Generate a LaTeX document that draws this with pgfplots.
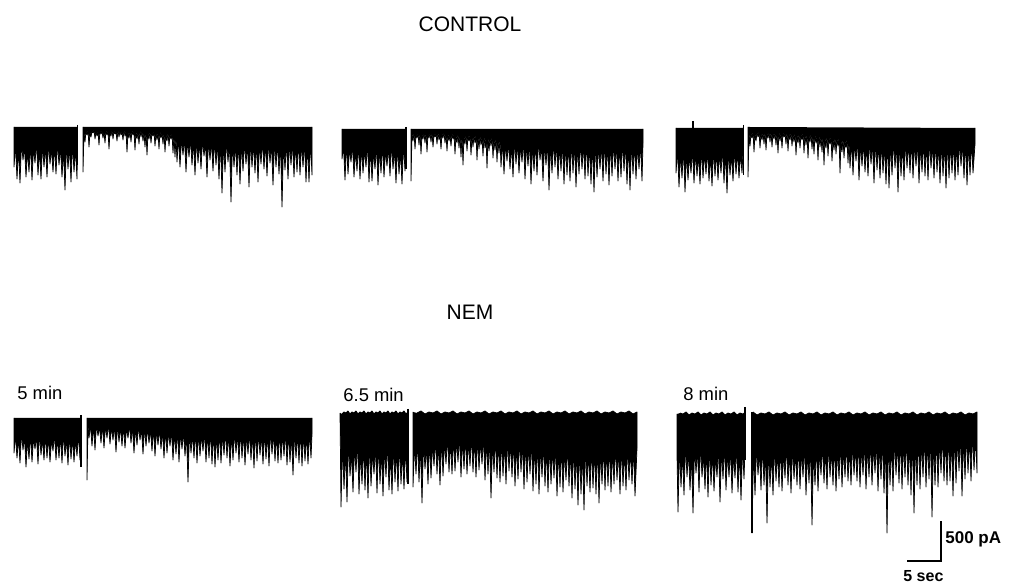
\documentclass[border=0pt]{standalone}
\usepackage{fontspec}
\setmainfont{Liberation Sans}
\usepackage{pgfplots}
\pgfplotsset{compat=1.18}
\pgfplotsset{trace/.style={hide axis, x=0.5pt, y=0.5pt, ymin=-130, ymax=10, clip=false, anchor=north west, enlargelimits=false},
 tr/.style={fill=black, draw=black, line width=0.36pt, line join=round, mark=none}}
\begin{document}
\begin{tikzpicture}
\useasboundingbox (0,0) rectangle (505pt,291.5pt);
% ---------------- CONTROL 1
\begin{axis}[trace, at={(7pt,233pt)}, xmin=14, xmax=312]
\addplot[tr] coordinates {(14,0)(14,-40)(15.5,-18)(17,-52)(18.5,-22)(20,-56)(21.5,-16)(23,-33)(24.5,-20)(26,-50)(27.5,-24)(29,-45)(30.5,-17)(32,-53)(33.5,-21)(35,-36)(36.5,-15)(38,-48)(39.5,-23)(41,-52)(42.5,-18)(44,-40)(45.5,-20)(47,-50)(48.5,-16)(50,-37)(51.5,-22)(53,-45)(54.5,-19)(56,-47)(57.5,-15)(59,-38)(60.5,-21)(62,-50)(63.5,-24)(65,-63)(66.5,-17)(68,-42)(69.5,-20)(71,-55)(72.5,-16)(74,-45)(75.5,-22)(77,-52)(77.5,-20)(77.5,0)};
\addplot[tr] coordinates {(83,0)(83,-45)(84,-5)(85,-15)(86,-4)(87,-8)(88,-3)(89,-20)(90,-5)(91,-10)(92,-4)(93,-6)(94,-3)(95,-12)(96,-5)(97,-9)(98,-4)(99,-18)(100,-3)(101,-7)(102,-4)(103,-11)(104,-5)(105,-16)(106,-3)(107,-8)(108,-4)(109,-22)(110,-5)(111,-9)(112,-3)(113,-12)(114,-4)(115,-7)(116,-5)(117,-14)(118,-3)(119,-10)(120,-4)(121,-8)(122,-5)(123,-13)(124,-3)(125,-9)(126,-4)(127,-25)(128,-5)(129,-11)(130,-4)(131,-15)(132,-3)(133,-8)(134,-5)(135,-23)(136,-4)(137,-12)(138,-5)(139,-17)(140,-3)(141,-10)(142,-4)(143,-14)(144,-5)(145,-20)(146,-4)(147,-28)(148,-6)(149,-12)(150,-4)(151,-16)(152,-5)(153,-9)(154,-4)(155,-19)(156,-6)(157,-13)(158,-5)(159,-22)(160,-4)(161,-11)(162,-6)(163,-17)(164,-5)(165,-25)(166,-7)(167,-14)(168,-5)(169,-19)(170,-7)(171,-12)(172,-6)(173,-26)(174,-8)(175,-30)(176,-9)
(177,-35)(178.5,-10)(180,-40)(181.5,-12)(183,-28)(184.5,-11)(186,-45)(187.5,-13)(189,-30)(190.5,-12)(192,-38)(193.5,-14)(195,-48)(196.5,-12)(198,-36)(199.5,-15)(201,-42)(202.5,-13)(204,-29)(205.5,-16)(207,-50)(208.5,-14)(210,-33)(211.5,-15)(213,-44)(214.5,-13)(216,-38)(217.5,-16)(219,-52)(220.5,-14)(222,-66)(223.5,-17)(225,-45)(226.5,-14)(228,-35)(229.5,-16)(231,-75)(232.5,-15)(234,-40)(235.5,-17)(237,-48)(238.5,-14)(240,-57)(241.5,-16)(243,-44)(244.5,-15)(246,-37)(247.5,-17)(249,-60)(250.5,-14)(252,-40)(253.5,-16)(255,-46)(256.5,-15)(258,-55)(259.5,-17)(261,-37)(262.5,-14)(264,-42)(265.5,-16)(267,-49)(268.5,-15)(270,-36)(271.5,-17)(273,-58)(274.5,-14)(276,-40)(277.5,-16)(279,-47)(280.5,-15)(282,-80)(283.5,-17)(285,-43)(286.5,-14)(288,-52)(289.5,-16)(291,-38)(292.5,-15)(294,-50)(295.5,-17)(297,-45)(298.5,-14)(300,-48)(301.5,-16)(303,-40)(304.5,-15)(306,-55)(307.5,-17)(309,-55)(310.5,-14)(312,-48)(312,0)};
\addplot[black, line width=0.7pt] coordinates {(77.5,2)(77.5,-38)};
\end{axis}
% ---------------- CONTROL 2
\begin{axis}[trace, at={(171pt,232pt)}, xmin=342, xmax=643]
\addplot[tr] coordinates {(342,0)(342,-30)(343.5,-17)(345,-51)(346.5,-14)(348,-45)(349.5,-20)(351,-33)(352.5,-16)(354,-48)(355.5,-22)(357,-42)(358.5,-15)(360,-50)(361.5,-18)(363,-44)(364.5,-21)(366,-38)(367.5,-14)(369,-53)(370.5,-19)(372,-52)(373.5,-23)(375,-40)(376.5,-16)(378,-56)(379.5,-20)(381,-44)(382.5,-15)(384,-48)(385.5,-22)(387,-37)(388.5,-18)(390,-47)(391.5,-14)(393,-40)(394.5,-21)(396,-54)(397.5,-17)(399,-45)(400.5,-23)(402,-55)(403.5,-15)(405,-42)(406,-18)(406,0)};
\addplot[tr] coordinates {(411,0)(411,-52)(412,-4)(413,-12)(414,-3)(415,-20)(416,-5)(417,-9)(418,-4)(419,-16)(420,-3)(421,-25)(422,-5)(423,-10)(424,-4)(425,-14)(426,-3)(427,-23)(428,-5)(429,-9)(430,-4)(431,-13)(432,-3)(433,-18)(434,-5)(435,-8)(436,-4)(437,-15)(438,-3)(439,-11)(440,-5)(441,-20)(442,-4)(443,-9)(444,-3)(445,-14)(446,-5)(447,-22)(448,-4)(449,-12)(450,-6)(451,-17)(452,-4)(453,-10)(454,-5)(455,-25)(456,-6)(457,-14)(458,-4)(459,-19)(460,-6)(461,-28)(462,-5)(463,-36)(464,-7)(465,-15)(466,-5)(467,-22)(468,-6)(469,-12)(470,-5)(471,-26)(472,-7)(473,-18)(474,-6)(475,-14)(476,-5)(477,-31)(478,-7)(479,-20)(480,-6)(481,-16)(482,-8)(483,-27)(484,-6)(485,-19)(486,-8)(487,-39)(488,-7)(489,-22)(490,-9)(491,-17)(492,-7)(493,-29)(494,-10)(495,-21)(496,-8)(497,-33)(498,-11)(499,-24)(500,-9)
(501,-38)(502.5,-12)(504,-45)(505.5,-15)(507,-32)(508.5,-13)(510,-40)(511.5,-16)(513,-48)(514.5,-11)(516,-35)(517.5,-14)(519,-44)(520.5,-17)(522,-33)(523.5,-12)(525,-50)(526.5,-15)(528,-37)(529.5,-13)(531,-55)(532.5,-16)(534,-42)(535.5,-14)(537,-46)(538.5,-12)(540,-31)(541.5,-17)(543,-52)(544.5,-15)(546,-36)(547.5,-13)(549,-61)(550.5,-16)(552,-44)(553.5,-12)(555,-38)(556.5,-14)(558,-50)(559.5,-17)(561,-42)(562.5,-13)(564,-55)(565.5,-15)(567,-46)(568.5,-16)(570,-52)(571.5,-12)(573,-44)(574.5,-14)(576,-58)(577.5,-17)(579,-45)(580.5,-13)(582,-40)(583.5,-15)(585,-50)(586.5,-12)(588,-47)(589.5,-16)(591,-55)(592.5,-14)(594,-63)(595.5,-13)(597,-48)(598.5,-17)(600,-40)(601.5,-15)(603,-52)(604.5,-12)(606,-45)(607.5,-16)(609,-56)(610.5,-14)(612,-47)(613.5,-13)(615,-40)(616.5,-15)(618,-52)(619.5,-17)(621,-48)(622.5,-12)(624,-42)(625.5,-14)(627,-55)(628.5,-16)(630,-61)(631.5,-13)(633,-45)(634.5,-15)(636,-50)(637.5,-17)(639,-40)(640.5,-14)(642,-52)(643,-14)(643,0)};
\addplot[black, line width=0.7pt] coordinates {(406,2)(406,-40)};
\end{axis}
% ---------------- CONTROL 3
\begin{axis}[trace, at={(338pt,232.5pt)}, xmin=676, xmax=975]
\addplot[tr] coordinates {(676,0)(676,-45)(677.5,-22)(679,-59)(680.5,-26)(682,-50)(683.5,-20)(685,-64)(686.5,-25)(688,-52)(689.5,-28)(691,-45)(692.5,-21)(694,-55)(695.5,-24)(697,-48)(698.5,-27)(700,-56)(701.5,-20)(703,-50)(704.5,-25)(706,-46)(707.5,-22)(709,-53)(710.5,-28)(712,-58)(713.5,-21)(715,-48)(716.5,-24)(718,-52)(719.5,-26)(721,-45)(722.5,-20)(724,-55)(725.5,-25)(727,-65)(728.5,-23)(730,-47)(731.5,-27)(733,-53)(734.5,-21)(736,-46)(737.5,-24)(739,-50)(740.5,-26)(742,-45)(743,-22)(743,0)};
\addplot[tr] coordinates {(748,1)(748,-49)(749,-4)(750,-18)(751,-5)(752,-10)(753,-3)(754,-24)(755,-5)(756,-13)(757,-4)(758,-9)(759,-3)(760,-20)(761,-5)(762,-12)(763,-4)(764,-16)(765,-3)(766,-22)(767,-5)(768,-10)(769,-4)(770,-14)(771,-3)(772,-19)(773,-5)(774,-11)(775,-4)(776,-17)(777,-5)(778,-25)(779,-3)(780,-13)(781,-5)(782,-20)(783,-4)(784,-9)(785,-5)(786,-16)(787,-3)(788,-23)(789,-5)(790,-12)(791,-4)(792,-18)(793,-6)(794,-14)(795,-4)(796,-27)(797,-6)(798,-15)(799,-5)(800,-20)(801,-6)(802,-12)(803,-4)(804,-25)(805,-6)(806,-17)(807,-5)(808,-30)(809,-7)(810,-14)(811,-5)(812,-21)(813,-7)(814,-26)(815,-6)(816,-15)(817,-8)(818,-32)(819,-6)(820,-19)(821,-8)(822,-24)(823,-7)(824,-37)(825,-9)(826,-20)(827,-7)(828,-28)(829,-9)(830,-16)(831,-8)(832,-33)(833,-10)(834,-22)(835,-8)(836,-26)(837,-10)(838,-18)(839,-9)(840,-45)(841,-11)(842,-24)(843,-9)(844,-30)(845,-12)(846,-20)(847,-10)(848,-35)(849,-12)
(850,-40)(851.5,-13)(853,-47)(854.5,-15)(856,-33)(857.5,-12)(859,-52)(860.5,-16)(862,-38)(863.5,-14)(865,-44)(866.5,-17)(868,-48)(869.5,-13)(871,-36)(872.5,-15)(874,-55)(875.5,-12)(877,-42)(878.5,-16)(880,-50)(881.5,-14)(883,-45)(884.5,-17)(886,-56)(887.5,-13)(889,-60)(890.5,-15)(892,-47)(893.5,-12)(895,-40)(896.5,-16)(898,-64)(899.5,-14)(901,-48)(902.5,-17)(904,-52)(905.5,-13)(907,-40)(908.5,-15)(910,-45)(911.5,-12)(913,-50)(914.5,-16)(916,-38)(917.5,-14)(919,-55)(920.5,-17)(922,-44)(923.5,-13)(925,-48)(926.5,-15)(928,-52)(929.5,-12)(931,-40)(932.5,-16)(934,-50)(935.5,-14)(937,-44)(938.5,-17)(940,-55)(941.5,-13)(943,-48)(944.5,-15)(946,-60)(947.5,-12)(949,-50)(950.5,-16)(952,-45)(953.5,-14)(955,-52)(956.5,-17)(958,-47)(959.5,-13)(961,-38)(962.5,-15)(964,-50)(965.5,-12)(967,-57)(968.5,-16)(970,-47)(971.5,-14)(973,-45)(975,-16)(975,0)};
\addplot[black, line width=0.7pt] coordinates {(743.5,3)(743.5,-47)};
\addplot[black, line width=0.6pt] coordinates {(693,7)(693,0)};
\end{axis}
% ---------------- NEM 5 min
\begin{axis}[trace, at={(7pt,87.5pt)}, xmin=14, xmax=312]
\addplot[tr] coordinates {(14,0)(14,-35)(15.5,-17)(17,-40)(18.5,-20)(20,-45)(21.5,-15)(23,-32)(24.5,-19)(26,-49)(27.5,-22)(29,-41)(30.5,-16)(32,-44)(33.5,-20)(35,-31)(36.5,-18)(38,-46)(39.5,-15)(41,-37)(42.5,-21)(44,-42)(45.5,-17)(47,-40)(48.5,-19)(50,-44)(51.5,-22)(53,-33)(54.5,-16)(56,-42)(57.5,-20)(59,-40)(60.5,-18)(62,-45)(63.5,-15)(65,-38)(66.5,-21)(68,-47)(69.5,-17)(71,-41)(72.5,-20)(74,-44)(75.5,-22)(77,-38)(78.5,-16)(80,-42)(81,-18)(81,0)};
\addplot[tr] coordinates {(87,0)(87,-62)(88,-7)(89,-20)(90.5,-7)(92,-28)(93.5,-8)(95,-32)(96.5,-6)(98,-18)(99.5,-9)(101,-25)(102.5,-7)(104,-30)(105.5,-8)(107,-20)(108.5,-6)(110,-26)(111.5,-9)(113,-22)(114.5,-8)(116,-34)(117.5,-7)(119,-24)(120.5,-9)(122,-28)(123.5,-8)(125,-30)(126.5,-10)(128,-20)(129.5,-7)(131,-25)(132.5,-9)(134,-35)(135.5,-10)(137,-27)(138.5,-8)(140,-22)(141.5,-11)(143,-36)(144.5,-9)(146,-28)(147.5,-10)(149,-25)(150.5,-12)(152,-33)(153.5,-10)(155,-38)(156.5,-12)(158,-27)(159.5,-11)(161,-31)(162.5,-13)(164,-40)(165.5,-12)(167,-35)(168.5,-14)(170,-28)(171.5,-13)(173,-42)(174.5,-15)(176,-36)(177.5,-13)(179,-44)(180.5,-15)(182,-31)(183.5,-14)(185,-38)(186.5,-16)(188,-64)(189.5,-14)(191,-35)(192.5,-16)(194,-40)(195.5,-13)(197,-45)(198.5,-15)(200,-38)(201.5,-17)(203,-33)(204.5,-14)(206,-44)(207.5,-16)(209,-40)(210.5,-13)(212,-46)(213.5,-15)(215,-49)(216.5,-17)(218,-42)(219.5,-14)(221,-45)(222.5,-16)(224,-37)(225.5,-13)(227,-40)(228.5,-15)(230,-48)(231.5,-17)(233,-42)(234.5,-14)(236,-35)(237.5,-16)(239,-44)(240.5,-13)(242,-40)(243.5,-15)(245,-47)(246.5,-17)(248,-36)(249.5,-14)(251,-42)(252.5,-16)(254,-50)(255.5,-13)(257,-43)(258.5,-15)(260,-37)(261.5,-17)(263,-46)(264.5,-14)(266,-41)(267.5,-16)(269,-48)(270.5,-13)(272,-36)(273.5,-15)(275,-43)(276.5,-17)(278,-45)(279.5,-14)(281,-42)(282.5,-16)(284,-38)(285.5,-13)(287,-47)(288.5,-15)(290,-44)(291.5,-17)(293,-57)(294.5,-14)(296,-40)(297.5,-16)(299,-45)(300.5,-13)(302,-48)(303.5,-15)(305,-43)(306.5,-17)(308,-46)(309.5,-14)(311,-40)(312,-16)(312,0)};
\addplot[black, line width=0.7pt] coordinates {(81,3)(81,-49)};
\end{axis}
% ---------------- NEM 6.5 min
\begin{axis}[trace, at={(170pt,89.5pt)}, xmin=340, xmax=637]
\addplot[tr] coordinates {(340,1)(341,-93)(342.5,-30)(344,-75)(345.5,-36)(347,-88)(348.5,-28)(350,-62)(351.5,-40)(353,-78)(354.5,-33)(356,-58)(357.5,-27)(359,-80)(360.5,-38)(362,-70)(363.5,-31)(365,-76)(366.5,-35)(368,-84)(369.5,-26)(371,-72)(372.5,-39)(374,-60)(375.5,-32)(377,-79)(378.5,-29)(380,-70)(381.5,-37)(383,-82)(384.5,-34)(386,-63)(387.5,-27)(389,-76)(390.5,-41)(392,-80)(393.5,-30)(395,-68)(396.5,-36)(398,-77)(399.5,-28)(401,-70)(402.5,-38)(404,-75)(405.5,-33)(407,-68)(408,-33)(408,2)(406,0)(404,3)(402,1)(400,2)(398,0)(396,3)(394,1)(392,2)(390,0)(388,3)(386,1)(384,2)(382,0)(380,3)(378,1)(376,2)(374,0)(372,3)(370,1)(368,2)(366,0)(364,3)(362,1)(360,2)(358,0)(356,3)(354,1)(352,2)(350,0)(348,3)(346,1)(344,2)(342,0)};
\addplot[tr] coordinates {(413,2)(413,-73)(414.5,-30)(416,-60)(417.5,-26)(419,-68)(420.5,-32)(422,-89)(423.5,-28)(425,-55)(426.5,-33)(428,-70)(429.5,-27)(431,-64)(432.5,-31)(434,-52)(435.5,-25)(437,-60)(438.5,-29)(440,-71)(441.5,-24)(443,-62)(444.5,-28)(446,-50)(447.5,-22)(449,-58)(450.5,-27)(452,-60)(453.5,-23)(455,-57)(456.5,-26)(458,-48)(459.5,-21)(461,-63)(462.5,-25)(464,-55)(465.5,-22)(467,-60)(468.5,-27)(470,-52)(471.5,-21)(473,-58)(474.5,-25)(476,-63)(477.5,-23)(479,-56)(480.5,-27)(482,-50)(483.5,-22)(485,-66)(486.5,-26)(488,-60)(489.5,-24)(491,-84)(492.5,-28)(494,-58)(495.5,-23)(497,-64)(498.5,-27)(500,-68)(501.5,-25)(503,-62)(504.5,-29)(506,-70)(507.5,-24)(509,-57)(510.5,-28)(512,-63)(513.5,-26)(515,-72)(516.5,-30)(518,-65)(519.5,-25)(521,-58)(522.5,-29)(524,-75)(525.5,-27)(527,-68)(528.5,-31)(530,-60)(531.5,-26)(533,-77)(534.5,-32)(536,-70)(537.5,-28)(539,-80)(540.5,-33)(542,-63)(543.5,-29)(545,-72)(546.5,-34)(548,-78)(549.5,-30)(551,-70)(552.5,-35)(554,-64)(555.5,-31)(557,-82)(558.5,-36)(560,-73)(561.5,-32)(563,-78)(564.5,-37)(566,-66)(567.5,-31)(569,-72)(570.5,-36)(572,-84)(573.5,-32)(575,-75)(576.5,-37)(578,-91)(579.5,-33)(581,-80)(582.5,-38)(584,-96)(585.5,-32)(587,-72)(588.5,-37)(590,-78)(591.5,-33)(593,-74)(594.5,-36)(596,-80)(597.5,-31)(599,-89)(600.5,-37)(602,-70)(603.5,-32)(605,-76)(606.5,-36)(608,-72)(609.5,-31)(611,-78)(612.5,-37)(614,-70)(615.5,-32)(617,-66)(618.5,-36)(620,-80)(621.5,-31)(623,-72)(624.5,-37)(626,-76)(627.5,-32)(629,-66)(630.5,-36)(632,-70)(633.5,-33)(635,-82)(637,-34)(637,2)(633,0)(629,3)(625,1)(621,2)(617,0)(613,3)(609,1)(605,2)(601,0)(597,3)(593,1)(589,2)(585,0)(581,3)(577,1)(573,2)(569,0)(565,3)(561,1)(557,2)(553,0)(549,3)(545,1)(541,2)(537,0)(533,3)(529,1)(525,2)(521,0)(517,3)(513,1)(509,2)(505,0)(501,3)(497,1)(493,2)(489,0)(485,3)(481,1)(477,2)(473,0)(469,3)(465,1)(461,2)(457,0)(453,3)(449,1)(445,2)(441,0)(437,3)(433,1)(429,2)(425,0)(421,3)(417,1)};
\addplot[black, line width=0.7pt] coordinates {(408,5)(408,-70)};
\end{axis}
% ---------------- NEM 8 min
\begin{axis}[trace, at={(338.5pt,89pt)}, xmin=677, xmax=977]
\addplot[tr] coordinates {(677,1)(677,-40)(678,-97)(679.5,-32)(681,-72)(682.5,-38)(684,-80)(685.5,-29)(687,-62)(688.5,-36)(690,-75)(691.5,-41)(693,-98)(694.5,-31)(696,-58)(697.5,-35)(699,-77)(700.5,-28)(702,-62)(703.5,-39)(705,-74)(706.5,-33)(708,-82)(709.5,-30)(711,-70)(712.5,-37)(714,-76)(715.5,-42)(717,-62)(718.5,-31)(720,-87)(721.5,-35)(723,-64)(724.5,-29)(726,-75)(727.5,-38)(729,-62)(730.5,-33)(732,-78)(733.5,-40)(735,-63)(736.5,-30)(738,-77)(739.5,-36)(741,-85)(742.5,-32)(744,-64)(745,-34)(745,3)(743,1)(740,2)(737,0)(734,3)(731,1)(728,2)(725,0)(722,3)(719,1)(716,2)(713,0)(710,3)(707,1)(704,2)(701,0)(698,3)(695,1)(692,2)(689,0)(686,3)(683,1)(680,2)};
\addplot[tr] coordinates {(752,2)(752,-118)(753.5,-35)(755,-80)(756.5,-31)(758,-60)(759.5,-38)(761,-75)(762.5,-29)(764,-70)(765.5,-36)(767,-108)(768.5,-32)(770,-72)(771.5,-39)(773,-80)(774.5,-30)(776,-66)(777.5,-37)(779,-72)(780.5,-31)(782,-76)(783.5,-38)(785,-63)(786.5,-29)(788,-70)(789.5,-36)(791,-78)(792.5,-31)(794,-64)(795.5,-38)(797,-70)(798.5,-29)(800,-74)(801.5,-36)(803,-62)(804.5,-30)(806,-80)(807.5,-37)(809,-68)(810.5,-29)(812,-110)(813.5,-36)(815,-70)(816.5,-30)(818,-76)(819.5,-37)(821,-60)(822.5,-29)(824,-68)(825.5,-35)(827,-74)(828.5,-28)(830,-62)(831.5,-35)(833,-70)(834.5,-29)(836,-76)(837.5,-34)(839,-64)(840.5,-27)(842,-72)(843.5,-34)(845,-62)(846.5,-28)(848,-66)(849.5,-33)(851,-70)(852.5,-27)(854,-60)(855.5,-32)(857,-66)(858.5,-26)(860,-72)(861.5,-32)(863,-60)(864.5,-26)(866,-74)(867.5,-31)(869,-62)(870.5,-25)(872,-70)(873.5,-31)(875,-58)(876.5,-25)(878,-76)(879.5,-30)(881,-64)(882.5,-24)(884,-78)(885.5,-29)(887,-118)(888.5,-24)(890,-70)(891.5,-29)(893,-76)(894.5,-23)(896,-60)(897.5,-28)(899,-68)(900.5,-22)(902,-74)(903.5,-28)(905,-62)(906.5,-22)(908,-70)(909.5,-27)(911,-80)(912.5,-21)(914,-98)(915.5,-27)(917,-70)(918.5,-21)(920,-74)(921.5,-26)(923,-62)(924.5,-20)(926,-72)(927.5,-26)(929,-64)(930.5,-20)(932,-102)(933.5,-25)(935,-70)(936.5,-20)(938,-72)(939.5,-25)(941,-58)(942.5,-19)(944,-66)(945.5,-24)(947,-70)(948.5,-19)(950,-66)(951.5,-24)(953,-81)(954.5,-18)(956,-68)(957.5,-23)(959,-56)(960.5,-18)(962,-81)(963.5,-23)(965,-64)(966.5,-18)(968,-58)(969.5,-22)(971,-66)(972.5,-17)(974,-55)(975.5,-22)(977,-58)(977,3)(973,1)(969,2)(965,0)(961,3)(957,1)(953,2)(949,0)(945,3)(941,1)(937,2)(933,0)(929,3)(925,1)(921,2)(917,0)(913,3)(909,1)(905,2)(901,0)(897,3)(893,1)(889,2)(885,0)(881,3)(877,1)(873,2)(869,0)(865,3)(861,1)(857,2)(853,0)(849,3)(845,1)(841,2)(837,0)(833,3)(829,1)(825,2)(821,0)(817,3)(813,1)(809,2)(805,0)(801,3)(797,1)(793,2)(789,0)(785,3)(781,1)(777,2)(773,0)(769,3)(765,1)(761,2)(757,0)(753,3)};
\addplot[black, line width=0.7pt] coordinates {(745,8)(745,-45)};
\addplot[black, line width=0.9pt] coordinates {(752,3)(752,-118)};
% scale bar: 5 sec / 500 pA
\addplot[black, line width=1pt] coordinates {(941,-106)(941,-146)(907,-146)};
\end{axis}
% ---------------- labels
\node[anchor=base, inner sep=0, font=\fontsize{10.5}{12}\selectfont] at (235pt,275.5pt) {CONTROL};
\node[anchor=base, inner sep=0, font=\fontsize{10.5}{12}\selectfont] at (235pt,131.5pt) {NEM};
\node[anchor=base west, inner sep=0, font=\fontsize{9.2}{11}\selectfont] at (8.5pt,91.5pt) {5 min};
\node[anchor=base west, inner sep=0, font=\fontsize{9.2}{11}\selectfont] at (171.5pt,90.5pt) {6.5 min};
\node[anchor=base west, inner sep=0, font=\fontsize{9.2}{11}\selectfont] at (341.5pt,91pt) {8 min};
\node[anchor=base west, inner sep=0, font=\bfseries\fontsize{8.5}{10}\selectfont] at (472.5pt,20pt) {500 pA};
\node[anchor=base west, inner sep=0, font=\bfseries\fontsize{8}{10}\selectfont] at (451.5pt,0.8pt) {5 sec};
\end{tikzpicture}
\end{document}
